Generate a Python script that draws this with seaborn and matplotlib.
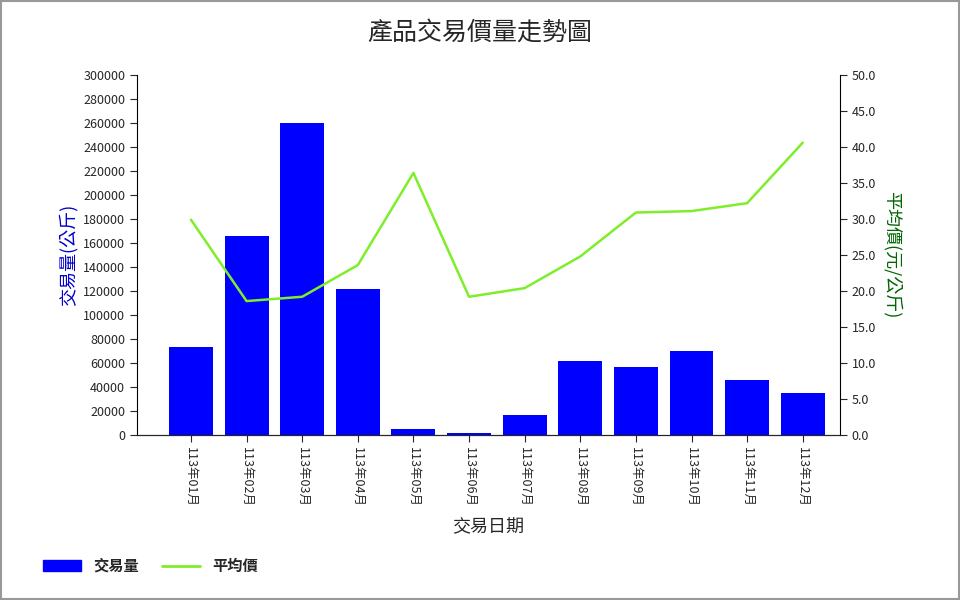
import matplotlib
matplotlib.use("Agg")
import matplotlib.pyplot as plt
import seaborn as sns
import pandas as pd
from matplotlib.patches import Rectangle
from matplotlib.lines import Line2D

sns.set_style("white")
plt.rcParams['font.family'] = ['Noto Sans CJK TC', 'DejaVu Sans']

months = ["113年01月","113年02月","113年03月","113年04月","113年05月","113年06月",
          "113年07月","113年08月","113年09月","113年10月","113年11月","113年12月"]
volume = [73000,166000,260000,122000,5000,1500,17000,62000,57000,70000,46000,35000]
price = [29.9,18.6,19.2,23.6,36.4,19.2,20.4,24.8,30.9,31.1,32.2,40.6]

df = pd.DataFrame({"month": months, "volume": volume, "price": price})

fig = plt.figure(figsize=(9.6, 6), dpi=100)
ax = fig.add_axes([137/960, 1-435/600, (840-137)/960, 360/600])
sns.barplot(data=df, x="month", y="volume", color="#0000FF", saturation=1, width=0.79,
            linewidth=0, ax=ax)
ax.set_xlim(-0.97, 11.67)
ax.set_ylim(0, 300000)
ax.set_yticks(range(0, 300001, 20000))
ax.tick_params(axis='y', labelsize=9, length=5, direction='out', left=True)
ax.tick_params(axis='x', labelsize=9, length=5, direction='out', bottom=True)
for lab in ax.get_xticklabels():
    lab.set_rotation(270)
    lab.set_va('top'); lab.set_ha('center')
ax.set_xlabel("交易日期", fontsize=13, labelpad=8)
ax.set_ylabel("交易量(公斤)", fontsize=13, color="#0000CC")
ax.spines["top"].set_visible(False)
ax.spines["right"].set_visible(False)
for s in ["left", "bottom"]:
    ax.spines[s].set_color("black")

ax2 = ax.twinx()
ax2.plot(range(len(months)), price, color="#7FEE2A", lw=1.8)
ax2.set_ylim(0, 50)
ax2.set_yticks([i * 5 for i in range(11)])
ax2.set_yticklabels([f"{i*5:.1f}" for i in range(11)])
ax2.tick_params(axis='y', labelsize=9, length=5, direction='out', right=True)
ax2.set_ylabel("平均價(元/公斤)", fontsize=13, color="#006600", rotation=270, labelpad=18)
ax2.spines["top"].set_visible(False)
ax2.spines["left"].set_visible(False)
ax2.spines["right"].set_color("black")
ax2.grid(False); ax.grid(False)

fig.text(0.5, 1-33/600, "產品交易價量走勢圖", ha="center", va="center", fontsize=18)

handles = [Rectangle((0, 0), 1, 1, color="#0000FF"), Line2D([0], [0], color="#7FEE2A", lw=2)]
fig.legend(handles, ["交易量", "平均價"], loc="center left", bbox_to_anchor=(0.03, 1-566/600),
           ncol=2, frameon=False, handlelength=2.5, columnspacing=1.5,
           prop={'weight': 'bold', 'size': 11})

fig.patches.append(Rectangle((0.001, 0.001), 0.998, 0.998, transform=fig.transFigure,
                             fill=False, edgecolor="#999999", lw=1.5))
fig.savefig("out.png", dpi=100)
